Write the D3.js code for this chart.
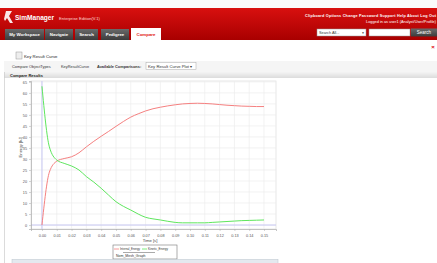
<!DOCTYPE html>
<html><head><meta charset="utf-8">
<script src="https://cdn.jsdelivr.net/npm/d3@7"></script>
<style>
html,body{margin:0;padding:0;background:#fff;overflow:hidden}
svg{display:block;font-family:"Liberation Sans",Arial,sans-serif}
</style></head>
<body>
<script>
// ---- data ----
const time = [0,0.005,0.01,0.015,0.02,0.025,0.03,0.035,0.04,0.045,0.05,0.055,0.06,0.065,0.07,0.075,0.08,0.085,0.09,0.095,0.10,0.105,0.11,0.115,0.12,0.125,0.13,0.135,0.14,0.145,0.15];
const internalEnergy = [0,24,29,30.2,31,32.8,35.5,38,40.3,42.5,44.8,47,49,50.5,51.8,52.8,53.5,54.1,54.6,55,55.2,55.3,55.2,55,54.7,54.4,54.2,54,53.9,53.8,53.8];
const kineticEnergy = [63,35.5,29.5,28,26.8,25,22,19.5,16.7,13.6,10.6,8.5,6.8,5,3.5,2.8,2.3,1.7,1.2,1.0,1.0,1.0,1.0,1.2,1.4,1.6,1.8,2.0,2.1,2.2,2.3];
const seriesNames = ["Internal_Energy","Kinetic_Energy"];
const xTicks = [0,0.01,0.02,0.03,0.04,0.05,0.06,0.07,0.08,0.09,0.10,0.11,0.12,0.13,0.14,0.15];
const yTicks = [0,5,10,15,20,25,30,35,40,45,50,55,60,65];
const navTabs = ["My Workspace","Navigate","Search","Pedigree","Compare"];
const topLinks = ["Clipboard","Options","Change Password","Support","Help","About","Log Out"];

const W=437,H=263;
const svg=d3.select("body").append("svg").attr("width",W).attr("height",H);
const defs=svg.append("defs");
const gr=defs.append("linearGradient").attr("id","red").attr("x1",0).attr("y1",0).attr("x2",0).attr("y2",1);
gr.append("stop").attr("offset","0").attr("stop-color","#d8100f");
gr.append("stop").attr("offset","1").attr("stop-color","#a80000");
const gt=defs.append("linearGradient").attr("id","tab").attr("x1",0).attr("y1",0).attr("x2",0).attr("y2",1);
gt.append("stop").attr("offset","0").attr("stop-color","#6a6a6a");
gt.append("stop").attr("offset","1").attr("stop-color","#3c3c3c");
const gb=defs.append("linearGradient").attr("id","bar").attr("x1",0).attr("y1",0).attr("x2",0).attr("y2",1);
gb.append("stop").attr("offset","0").attr("stop-color","#f4f4f4");
gb.append("stop").attr("offset","1").attr("stop-color","#dcdcdc");

// header
svg.append("rect").attr("x",0).attr("y",0).attr("width",W).attr("height",8).attr("fill","#fafafa");
svg.append("rect").attr("x",0).attr("y",8).attr("width",W).attr("height",32).attr("fill","url(#red)");
// logo
svg.append("path").attr("d","M6,11 L12,11 L9,16 L13,23 L10,23 L7,18 L5,21 L4,19 Z").attr("fill","#fff").attr("opacity",0.9);
svg.append("text").attr("x",15).attr("y",20).attr("fill","#fff").attr("font-size",7.5).attr("font-weight","bold").attr("textLength",39).attr("lengthAdjust","spacingAndGlyphs").text("SimManager");
svg.append("text").attr("x",59).attr("y",19.5).attr("fill","#ffdada").attr("font-size",3.2).attr("textLength",41).attr("lengthAdjust","spacingAndGlyphs").text("Enterprise Edition(V.1)");
// top links
svg.append("text").attr("x",305).attr("y",16.5).attr("fill","#fff").attr("font-size",3.8).attr("font-weight","bold").attr("textLength",131).attr("lengthAdjust","spacing").text(topLinks.join("  "));
svg.append("text").attr("x",366).attr("y",22.5).attr("fill","#fff").attr("font-size",3.8).attr("textLength",70).attr("lengthAdjust","spacingAndGlyphs").text("Logged in as user1 (Analyst/User/Profile)");
// search
svg.append("rect").attr("x",317).attr("y",29).attr("width",49).attr("height",7).attr("fill","#fff").attr("stroke","#999").attr("stroke-width",0.5);
svg.append("text").attr("x",319).attr("y",34).attr("font-size",3.8).attr("fill","#333").text("Search All...");
svg.append("text").attr("x",363).attr("y",34).attr("font-size",3).attr("fill","#333").attr("text-anchor","middle").text("▼");
svg.append("rect").attr("x",369).attr("y",29).attr("width",41).attr("height",7).attr("fill","#fff").attr("stroke","#999").attr("stroke-width",0.5);
svg.append("rect").attr("x",411).attr("y",28.5).attr("width",26).attr("height",8).attr("fill","url(#tab)");
svg.append("text").attr("x",424).attr("y",34.3).attr("font-size",4.5).attr("fill","#fff").attr("text-anchor","middle").text("Search");
// tabs
const tabX=[5,45,75,101,131], tabW=[39,28,23,28,30];
navTabs.forEach((t,i)=>{
  const act=i===4;
  svg.append("rect").attr("x",tabX[i]).attr("y",act?28:29).attr("width",tabW[i]).attr("height",act?12:11).attr("fill",act?"#fff":"url(#tab)");
  svg.append("text").attr("x",tabX[i]+tabW[i]/2).attr("y",36).attr("text-anchor","middle").attr("font-size",4.4).attr("font-weight","bold").attr("fill",act?"#e01010":"#fff").text(t);
});
// close x
svg.append("text").attr("x",433).attr("y",49).attr("font-size",6).attr("fill","#d00").attr("text-anchor","middle").attr("font-weight","bold").text("×");
// key result curve title
svg.append("rect").attr("x",16).attr("y",52).attr("width",6).attr("height",7).attr("fill","#eee").attr("stroke","#999").attr("stroke-width",0.5);
svg.append("text").attr("x",24).attr("y",57.5).attr("font-size",4.3).attr("fill","#222").text("Key Result Curve");
svg.append("rect").attr("x",4).attr("y",61).attr("width",W-4).attr("height",11).attr("fill","#f5f5f5");
svg.append("text").attr("x",12).attr("y",67.5).attr("font-size",3.9).attr("fill","#333").text("Compare ObjectTypes");
svg.append("text").attr("x",61).attr("y",67.5).attr("font-size",3.9).attr("fill","#333").text("KeyResultCurve");
svg.append("text").attr("x",97).attr("y",67.5).attr("font-size",3.9).attr("fill","#333").attr("font-weight","bold").text("Available Comparisons:");
svg.append("rect").attr("x",146).attr("y",62.5).attr("width",50).attr("height",7).attr("fill","#fff").attr("stroke","#aaa").attr("stroke-width",0.5);
svg.append("text").attr("x",148).attr("y",67.5).attr("font-size",4.2).attr("fill","#333").text("Key Result Curve Plot  ▾");
// compare results bar
svg.append("rect").attr("x",4).attr("y",72).attr("width",W-4).attr("height",6).attr("fill","url(#bar)");
svg.append("text").attr("x",10).attr("y",76.6).attr("font-size",4).attr("font-weight","bold").attr("fill","#222").text("Compare Results");
svg.append("line").attr("x1",4.5).attr("x2",4.5).attr("y1",72).attr("y2",H).attr("stroke","#ccc").attr("stroke-width",0.7);

// chart
const x=d3.scaleLinear().domain([-0.0074,0.1581]).range([31,276]);
const y=d3.scaleLinear().domain([-1.8,65.4]).range([229,81]);
const g=svg.append("g");
g.append("rect").attr("x",31).attr("y",81).attr("width",245).attr("height",148).attr("fill","#fff").attr("stroke","#ddd").attr("stroke-width",0.7);
g.selectAll(".vg").data(xTicks).join("line").attr("x1",d=>x(d)).attr("x2",d=>x(d)).attr("y1",81).attr("y2",229).attr("stroke","#ececec").attr("stroke-width",0.7);
g.selectAll(".hg").data(yTicks).join("line").attr("x1",31).attr("x2",276).attr("y1",d=>y(d)).attr("y2",d=>y(d)).attr("stroke","#ececec").attr("stroke-width",0.7);
g.append("line").attr("x1",x(0)).attr("x2",x(0)).attr("y1",81).attr("y2",229).attr("stroke","#c8c8f4").attr("stroke-width",1);
g.append("line").attr("x1",31).attr("x2",276).attr("y1",y(0)).attr("y2",y(0)).attr("stroke","#c8c8f4").attr("stroke-width",1);

const xa=g.append("g").attr("transform","translate(0,229)").call(d3.axisBottom(x).tickValues(xTicks).tickFormat(d3.format(".2f")).tickSize(2).tickPadding(3));
const ya=g.append("g").attr("transform","translate(31,0)").call(d3.axisLeft(y).tickValues(yTicks).tickFormat(d3.format("d")).tickSize(2).tickPadding(2));
[xa,ya].forEach(a=>{
  a.select(".domain").attr("stroke","#aaa").attr("stroke-width",0.7);
  a.selectAll(".tick line").attr("stroke","#aaa").attr("stroke-width",0.5);
  a.selectAll("text").attr("font-size",3.8).attr("fill","#555").attr("font-family","Liberation Sans,Arial,sans-serif");
});
g.append("text").attr("x",150).attr("y",241.5).attr("text-anchor","middle").attr("font-size",4.2).attr("fill","#444").text("Time [s]");
g.append("text").attr("transform","translate(22,147) rotate(-90)").attr("text-anchor","middle").attr("font-size",4.2).attr("fill","#444").text("Energy [kJ]");

const line=d3.line().x((d,i)=>x(time[i])).y(d=>y(d)).curve(d3.curveMonotoneX);
g.append("path").attr("d",line(internalEnergy)).attr("fill","none").attr("stroke","#f58080").attr("stroke-width",1);
g.append("path").attr("d",line(kineticEnergy)).attr("fill","none").attr("stroke","#5ee65e").attr("stroke-width",1);

// legend
const lg=svg.append("g");
lg.append("rect").attr("x",113).attr("y",245).attr("width",64).attr("height",14).attr("fill","#fff").attr("stroke","#777").attr("stroke-width",0.6);
lg.append("line").attr("x1",114).attr("x2",119).attr("y1",249).attr("y2",249).attr("stroke","#f58080").attr("stroke-width",0.8);
lg.append("text").attr("x",120).attr("y",250.3).attr("font-size",3.5).attr("fill","#333").attr("textLength",20).attr("lengthAdjust","spacingAndGlyphs").text(seriesNames[0]);
lg.append("line").attr("x1",142).attr("x2",147).attr("y1",249).attr("y2",249).attr("stroke","#5ee65e").attr("stroke-width",0.8);
lg.append("text").attr("x",148).attr("y",250.3).attr("font-size",3.5).attr("fill","#333").attr("textLength",20).attr("lengthAdjust","spacingAndGlyphs").text(seriesNames[1]);
lg.append("line").attr("x1",123).attr("x2",155).attr("y1",252.5).attr("y2",252.5).attr("stroke","#555").attr("stroke-width",0.5);
lg.append("text").attr("x",116).attr("y",257).attr("font-size",3.5).attr("fill","#333").text("Nom_Mesh_Graph");

// bottom bar
svg.append("rect").attr("x",12).attr("y",259.5).attr("width",266).attr("height",5).attr("fill","#e4e9ef").attr("stroke","#b8c2cc").attr("stroke-width",0.5);
</script>
</body></html>
